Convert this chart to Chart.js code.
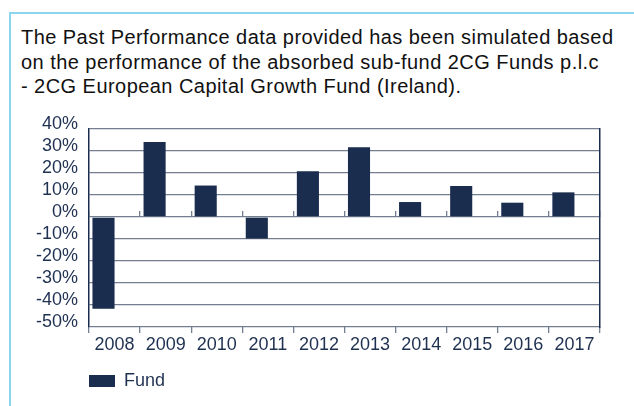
<!DOCTYPE html>
<html><head><meta charset="utf-8">
<script src="https://cdn.jsdelivr.net/npm/chart.js@4.4.1/dist/chart.umd.min.js"></script>
<style>
html,body{margin:0;padding:0;background:#fff;overflow:hidden;width:634px;height:406px;}
#frame{position:absolute;left:9px;top:12px;width:700px;height:500px;border-left:2px solid #8dd5ee;border-top:2px solid #8dd5ee;}
#note{position:absolute;left:21px;top:25px;font-family:"Liberation Sans",Arial,sans-serif;font-size:20px;line-height:24.5px;letter-spacing:0.45px;color:#111;white-space:nowrap;}
#wrap{position:absolute;left:0;top:0;width:634px;height:406px;}
</style></head><body>
<div id="frame"></div>
<div id="note">The Past Performance data provided has been simulated based<br>on the performance of the absorbed sub-fund 2CG Funds p.l.c<br>- 2CG European Capital Growth Fund (Ireland).</div>
<div id="wrap"><canvas id="c"></canvas></div>
<script>
const categories = ['2008','2009','2010','2011','2012','2013','2014','2015','2016','2017'];
const fundValues = [-41.7, 34.1, 14.3, -9.8, 20.8, 31.7, 6.8, 14.1, 6.5, 11.2];
const emptyValues = [null, null, null, null, null, null, null, null, null, null];
const seriesName = 'Fund';
const yMin = -50, yMax = 40, yStep = 10;

const NAVY = '#1b2d4e';
const TEXT = '#1f3151';
const GRID = '#737e91';
const FONT = '"Liberation Sans", Arial, sans-serif';

new Chart(document.getElementById('c'), {
  type: 'bar',
  data: {
    labels: categories,
    datasets: [
      { label: seriesName, data: fundValues, backgroundColor: NAVY, borderWidth: 0,
        categoryPercentage: 0.865, barPercentage: 1.0 },
      { label: '_empty', data: emptyValues, backgroundColor: 'rgba(0,0,0,0)', borderWidth: 0,
        categoryPercentage: 0.865, barPercentage: 1.0 }
    ]
  },
  options: {
    responsive: true,
    maintainAspectRatio: false,
    animation: false,
    layout: { padding: { left: 29, top: 129, right: 34, bottom: 6 } },
    plugins: {
      tooltip: { enabled: false },
      legend: {
        position: 'bottom',
        align: 'start',
        fullSize: false,
        labels: {
          filter: (item) => item.text !== '_empty',
          boxWidth: 26, boxHeight: 12, padding: 0,
          color: TEXT, font: { family: FONT, size: 18 }
        }
      }
    },
    scales: {
      x: {
        type: 'category',
        position: 'bottom',
        offset: true,
        grid: { offset: true, drawOnChartArea: false, drawTicks: true, tickLength: 6, color: GRID, lineWidth: 1.3 },
        border: { display: false },
        ticks: { color: TEXT, font: { family: FONT, size: 18 }, padding: 1, maxRotation: 0, autoSkip: false },
        afterFit: (s) => { s.height = 45; }
      },
      x2: {
        type: 'category',
        position: { y: 0 },
        offset: true,
        grid: { offset: true, drawOnChartArea: false, drawTicks: true, tickLength: -6, color: GRID, lineWidth: 1.3 },
        border: { display: false },
        ticks: { display: false }
      },
      y: {
        min: yMin, max: yMax,
        position: 'left',
        grid: { color: GRID, lineWidth: 1.3, drawTicks: false },
        border: { display: true, color: NAVY, width: 1.5 },
        ticks: { stepSize: yStep, autoSkip: false, color: TEXT, font: { family: FONT, size: 18 }, padding: 11, labelOffset: -5,
                 callback: (v) => v + '%' },
        afterFit: (s) => { s.width = 60; }
      },
      y2: {
        min: yMin, max: yMax,
        position: 'right',
        grid: { drawOnChartArea: false, drawTicks: false },
        border: { display: true, color: NAVY, width: 1.5 },
        ticks: { display: false },
        afterFit: (s) => { s.width = 0; }
      }
    }
  }
});
</script>
</body></html>
